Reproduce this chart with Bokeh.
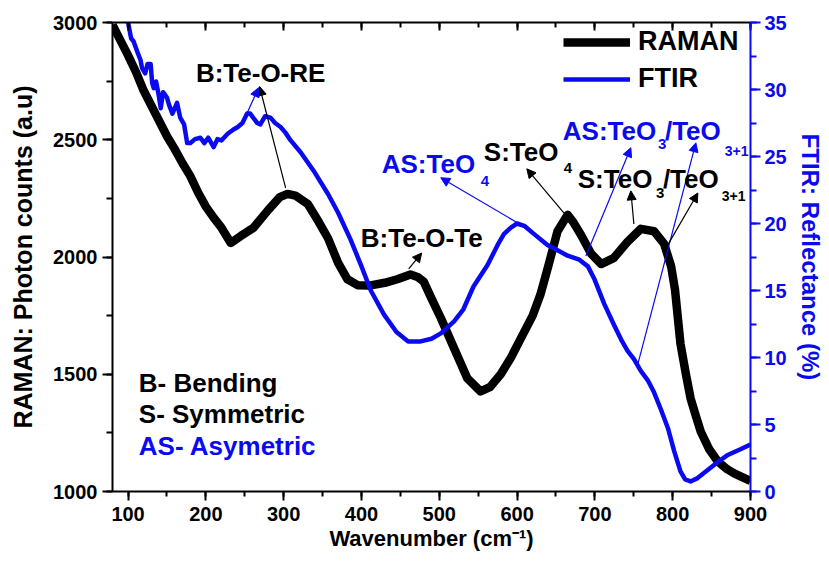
from bokeh.plotting import figure
from bokeh.models import (Range1d, LinearAxis, SingleIntervalTicker, Label, Arrow,
                          NormalHead, Legend, LegendItem, CustomLabelingPolicy)
from bokeh.embed import file_html
from bokeh.resources import INLINE

# ---------------- data ----------------
raman_x = [80, 90, 100, 110, 120, 130, 140, 150, 160, 170, 180, 190, 200, 210, 220, 232, 245, 261, 280, 295,
           305, 315, 331, 345, 357, 370, 382, 395, 410, 430, 446, 463, 472, 480, 489, 502, 519, 536, 553, 565,
           579, 592, 605, 620, 630, 640, 652, 665, 672, 682, 695, 708, 724, 742, 759, 776, 789, 798, 803, 810,
           817, 823, 830, 836, 847, 858, 870, 879, 890, 900]
raman_y = [2990, 2925, 2860, 2790, 2710, 2645, 2580, 2515, 2460, 2400, 2345, 2275, 2215, 2168, 2125, 2060, 2090, 2124, 2200, 2255,
           2269, 2262, 2226, 2150, 2080, 1975, 1905, 1880, 1878, 1890, 1905, 1925, 1915, 1895, 1830, 1740, 1611, 1483, 1427, 1445,
           1500, 1570, 1654, 1750, 1840, 1960, 2110, 2180, 2150, 2095, 2015, 1970, 1995, 2065, 2120, 2110, 2056, 1960, 1860, 1630,
           1500, 1397, 1320, 1256, 1180, 1128, 1095, 1077, 1060, 1045]

ftir_x = [100, 104, 107, 112, 116, 118, 122, 125, 129, 131, 133, 136, 139, 142, 145, 150, 153, 157, 160, 163,
          167, 172, 176, 180, 186, 193, 198, 203, 210, 215, 220, 228, 235, 241, 247, 253, 257, 262, 266, 270,
          276, 283, 289, 296, 302, 309, 322, 340, 357, 370, 386, 400, 412, 429, 445, 460, 476, 490, 502, 519,
          531, 544, 562, 575, 583, 592, 600, 610, 620, 639, 652, 665, 680, 691, 699, 712, 724, 735, 742, 750,
          759, 768, 776, 785, 794, 802, 810, 816, 823, 832, 845, 858, 870, 885, 900]
ftir_y = [35.0, 33.8, 33.6, 32.8, 32.2, 31.6, 31.2, 31.9, 31.9, 30.5, 30.1, 30.6, 29.7, 28.6, 29.8, 29.4, 28.8, 28.2, 28.6, 29.0,
          27.9, 27.4, 26.0, 26.0, 26.3, 26.4, 26.0, 26.4, 25.7, 26.3, 26.2, 26.7, 27.0, 27.2, 27.5, 28.2, 28.2, 27.8, 27.5, 27.4,
          28.0, 27.9, 27.5, 27.2, 26.8, 26.2, 25.3, 23.8, 22.2, 20.8, 18.8, 16.8, 15.0, 13.2, 11.9, 11.2, 11.2, 11.4, 11.8, 12.7,
          13.6, 15.3, 16.9, 18.4, 19.2, 19.7, 20.0, 19.8, 19.3, 18.4, 18.0, 17.6, 17.3, 16.8, 15.9, 14.0, 12.5, 11.2, 10.5, 9.9,
          9.0, 8.3, 7.4, 6.1, 4.7, 3.0, 1.5, 0.9, 0.75, 1.0, 1.6, 2.2, 2.7, 3.1, 3.5]

series_names = ["RAMAN", "FTIR"]
x_title = "Wavenumber (cm\u207b\u00b9)"
y_title = "RAMAN: Photon counts (a.u)"
y2_title = "FTIR: Reflectance (%)"

BLUE = "#0a0af0"
FONT = "Liberation Sans"

p = figure(width=829, height=565, output_backend="svg", toolbar_location=None,
           x_range=Range1d(80, 900), y_range=Range1d(1000, 3000),
           min_border_left=112, min_border_right=79, min_border_top=22, min_border_bottom=74,
           background_fill_color="white", border_fill_color="white")
p.extra_y_ranges = {"ftir": Range1d(0, 35)}
p.grid.visible = False
p.outline_line_color = None


def style_axis(ax, color, out_major, out_minor, in_major=0, in_minor=0):
    ax.axis_line_color = color
    ax.axis_line_width = 2
    ax.major_tick_line_color = color
    ax.minor_tick_line_color = color
    ax.major_tick_line_width = 2
    ax.minor_tick_line_width = 2
    ax.major_tick_out = out_major
    ax.major_tick_in = in_major
    ax.minor_tick_out = out_minor
    ax.minor_tick_in = in_minor
    ax.major_label_text_font = FONT
    ax.major_label_text_font_style = "bold"
    ax.major_label_text_font_size = "20px"
    ax.major_label_text_color = color
    ax.axis_label_text_font = FONT
    ax.axis_label_text_font_style = "bold"
    ax.axis_label_text_color = color


xa = p.xaxis[0]
xa.ticker = SingleIntervalTicker(interval=100, num_minor_ticks=2)
style_axis(xa, "black", 9, 5)
xa.major_label_standoff = 6
xa.axis_label = x_title
xa.axis_label_text_font_size = "22px"
xa.axis_label_standoff = 2

ya = p.yaxis[0]
ya.ticker = SingleIntervalTicker(interval=500, num_minor_ticks=2)
style_axis(ya, "black", 10, 6)
ya.major_label_standoff = 5
ya.axis_label = y_title
ya.axis_label_text_font_size = "25px"
ya.axis_label_standoff = 13

ra = LinearAxis(y_range_name="ftir", ticker=SingleIntervalTicker(interval=5, num_minor_ticks=2))
style_axis(ra, BLUE, 10, 6)
ra.major_label_standoff = 4
ra.axis_label = y2_title
ra.axis_label_text_font_size = "24px"
ra.axis_label_standoff = 7
p.add_layout(ra, "right")

ta = LinearAxis(ticker=SingleIntervalTicker(interval=100, num_minor_ticks=2))
style_axis(ta, "black", 0, 0, 8, 5)
ta.major_label_standoff = 0
ta.major_label_policy = CustomLabelingPolicy(code="""
for (const i of indices) { indices.unset(i) }
return indices
""")
p.add_layout(ta, "above")

r1 = p.line(raman_x, raman_y, line_color="black", line_width=8.5, line_join="round")
r2 = p.line(ftir_x, ftir_y, y_range_name="ftir", line_color=BLUE, line_width=4.5, line_join="round")

legend = Legend(items=[LegendItem(label=series_names[0], renderers=[r1]),
                       LegendItem(label=series_names[1], renderers=[r2])],
                location=(451, 397), orientation="vertical",
                glyph_width=67, glyph_height=30, label_height=30, label_standoff=8, spacing=6,
                padding=0, margin=0, border_line_alpha=0, background_fill_alpha=0,
                label_text_font=FONT, label_text_font_style="bold", label_text_font_size="27px",
                label_text_color="black")
p.add_layout(legend)


def lab(x, y, text, color="black", size="26px", align="left"):
    p.add_layout(Label(x=x, y=y, text=text, text_color=color, text_font=FONT,
                       text_font_style="bold", text_font_size=size, text_align=align,
                       text_baseline="middle"))


def arrow(x0, y0, x1, y1, color):
    p.add_layout(Arrow(x_start=x0, y_start=y0, x_end=x1, y_end=y1, line_color=color, line_width=1.2,
                       end=NormalHead(size=9, fill_color=color, line_color=color)))


# annotations
lab(270.4, 2786, "B:Te-O-RE", align="center")
arrow(302.5, 2295, 269, 2727, "black")
arrow(248.5, 2581, 267.8, 2722, BLUE)

lab(477.4, 2081, "B:Te-O-Te", align="center")
arrow(460.7, 1949, 477.4, 2017, "black")

lab(426, 2397, "AS:TeO", color=BLUE)
lab(553.3, 2325, "4", color=BLUE, size="15px")
arrow(600.9, 2145, 501.9, 2338, BLUE)

lab(557.2, 2449, "S:TeO")
lab(660.1, 2380, "4", size="15px")
arrow(660.1, 2188, 612.5, 2376, "black")

lab(658.8, 2538, "AS:TeO", color=BLUE)
lab(781, 2483, "3", color=BLUE, size="15px")
lab(790, 2538, "/TeO", color=BLUE)
lab(867, 2453, "3+1", color=BLUE, size="14px")
arrow(688.4, 2004, 746.2, 2466, BLUE)
arrow(755.2, 1543, 829.8, 2487, BLUE)

lab(678, 2333, "S:TeO")
lab(778.4, 2274, "3", size="15px")
lab(787.4, 2333, "/TeO")
lab(863, 2261, "3+1", size="14px")
arrow(750.1, 2141, 746.2, 2282, "black")
arrow(791.3, 2038, 832.4, 2273, "black")

lab(113.8, 1461, "B- Bending")
lab(113.8, 1329, "S- Symmetric")
lab(113.8, 1192, "AS- Asymetric", color=BLUE)

open("out.html", "w").write(file_html(p, INLINE))
